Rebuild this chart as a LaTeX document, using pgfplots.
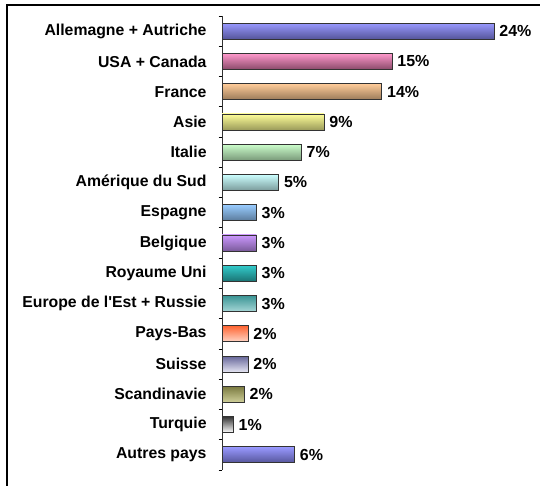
\documentclass[border=0pt]{standalone}
\usepackage{fontspec}
\setmainfont{Liberation Sans}
\usepackage{pgfplots}
\pgfplotsset{compat=1.18}

% couleurs des barres (haut / bas du degrade)
\definecolor{c1t}{HTML}{9999FF}\definecolor{c1b}{HTML}{55559A}
\definecolor{c2t}{HTML}{FF99CC}\definecolor{c2b}{HTML}{8A4A6A}
\definecolor{c3t}{HTML}{FFCC99}\definecolor{c3b}{HTML}{9A7A5A}
\definecolor{c4t}{HTML}{FFFF99}\definecolor{c4b}{HTML}{9A9A5A}
\definecolor{c5t}{HTML}{CCFFCC}\definecolor{c5b}{HTML}{7A9A7A}
\definecolor{c6t}{HTML}{CCFFFF}\definecolor{c6b}{HTML}{7A9A9A}
\definecolor{c7t}{HTML}{99CCFF}\definecolor{c7b}{HTML}{5A7A9A}
\definecolor{c8t}{HTML}{CC99FF}\definecolor{c8b}{HTML}{7A5A9A}
\definecolor{c9t}{HTML}{33CCCC}\definecolor{c9b}{HTML}{1A7373}
\definecolor{c10t}{HTML}{3A9595}\definecolor{c10b}{HTML}{A6D6D6}
\definecolor{c11t}{HTML}{FF6633}\definecolor{c11b}{HTML}{FFD6C6}
\definecolor{c12t}{HTML}{666699}\definecolor{c12b}{HTML}{E6E6F3}
\definecolor{c13t}{HTML}{7A7A40}\definecolor{c13b}{HTML}{CFCF9A}
\definecolor{c14t}{HTML}{333333}\definecolor{c14b}{HTML}{FFFFFF}
\definecolor{c15t}{HTML}{9999FF}\definecolor{c15b}{HTML}{55559A}

\begin{document}
\begin{tikzpicture}
\useasboundingbox (0,0) rectangle (540pt,486pt);
\fill[white] (0,0) rectangle (540pt,486pt);
\draw[line width=2.5pt] (7pt,0) -- (7pt,481pt) -- (540pt,481pt);
\begin{axis}[
    at={(222pt,16pt)}, anchor=south west,
    scale only axis,
    width=283.3pt, height=454pt,
    xmin=0, xmax=25,
    ymin=-0.5, ymax=14.5,
    y dir=reverse,
    axis x line=none,
    axis y line*=left,
    y axis line style={black!80, line width=0.8pt},
    ytick={0,...,14},
    yticklabels={Allemagne + Autriche, USA + Canada, France, Asie, Italie,
        Amérique du Sud, Espagne, Belgique, Royaume Uni,
        Europe de l\textquotesingle Est + Russie, Pays-Bas, Suisse, Scandinavie,
        Turquie, Autres pays},
    major y tick style={draw=none},
    minor ytick={-0.5,0.5,...,14.5},
    minor tick length=3.5pt,
    minor y tick style={black, line width=0.8pt},
    tick align=outside,
    yticklabel style={font=\fontsize{15.8}{18}\selectfont\bfseries,
        inner sep=0pt, xshift=-11pt},
    /pgf/number format/assume math mode=true,
    every axis plot/.append style={xbar, bar width=16pt, bar shift=0pt,
        draw=black!80, line width=0.8pt},
    point meta=x,
    nodes near coords={\pgfmathprintnumber[fixed,precision=0]{\pgfplotspointmeta}\%},
    every node near coord/.append style={font=\fontsize{16}{18}\selectfont\bfseries,
        black, anchor=west, inner sep=0pt, xshift=5pt},
    clip=false,
]
\addplot[top color=c1t, bottom color=c1b] coordinates {(24,0)};
\addplot[top color=c2t, bottom color=c2b] coordinates {(15,1)};
\addplot[top color=c3t, bottom color=c3b] coordinates {(14.1,2)};
\addplot[top color=c4t, bottom color=c4b] coordinates {(9,3)};
\addplot[top color=c5t, bottom color=c5b] coordinates {(7,4)};
\addplot[top color=c6t, bottom color=c6b] coordinates {(5,5)};
\addplot[top color=c7t, bottom color=c7b] coordinates {(3.03,6)};
\addplot[top color=c8t, bottom color=c8b] coordinates {(3.03,7)};
\addplot[top color=c9t, bottom color=c9b] coordinates {(3.03,8)};
\addplot[top color=c10t, bottom color=c10b] coordinates {(3.03,9)};
\addplot[top color=c11t, bottom color=c11b] coordinates {(2.3,10)};
\addplot[top color=c12t, bottom color=c12b] coordinates {(2.3,11)};
\addplot[top color=c13t, bottom color=c13b] coordinates {(1.97,12)};
\addplot[top color=c14t, bottom color=c14b] coordinates {(1,13)};
\addplot[top color=c15t, bottom color=c15b] coordinates {(6.4,14)};
\end{axis}
\end{tikzpicture}
\end{document}
